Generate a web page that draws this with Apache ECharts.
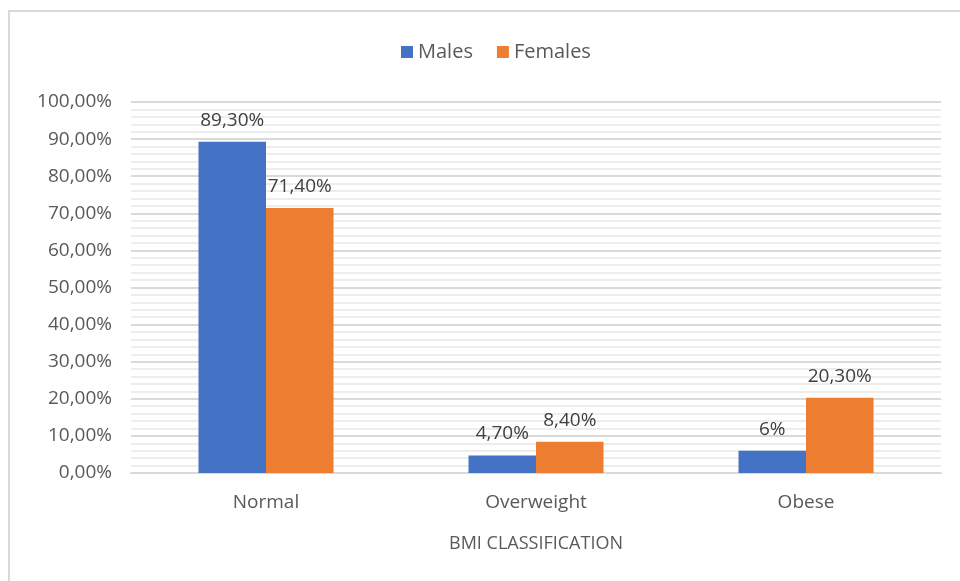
<!DOCTYPE html>
<html>
<head>
<meta charset="utf-8">
<script src="https://cdn.jsdelivr.net/npm/echarts@6/dist/echarts.min.js"></script>
<style>
  html, body { margin: 0; padding: 0; background: #fff; }
  #chart { width: 960px; height: 581px; }
</style>
</head>
<body>
<div id="chart"></div>
<script>
const categories = ["Normal", "Overweight", "Obese"];
const males = [89.3, 4.7, 6];
const females = [71.4, 8.4, 20.3];
const seriesNames = ["Males", "Females"];

const font = "Open Sans";

function pct(v) {
  // labels keep whole numbers short, e.g. "6%"
  if (Number.isInteger(v) && v !== 0) return v + "%";
  return v.toFixed(2).replace(".", ",") + "%";
}

const chart = echarts.init(document.getElementById("chart"));

function barSeries(name, data, color) {
  return {
    name: name,
    type: "bar",
    data: data,
    barGap: "0%",
    barCategoryGap: "50%",
    itemStyle: { color: color },
    label: {
      show: true,
      position: "top",
      distance: 12,
      color: "#404040",
      fontFamily: font,
      fontSize: 19,
      formatter: p => pct(p.value)
    }
  };
}

chart.setOption({
  animation: false,
  color: ["#4472c4", "#ed7d31"],
  graphic: [
    {
      type: "rect",
      shape: { x: 9, y: 11, width: 1000, height: 1000 },
      style: { fill: "none", stroke: "#d9d9d9", lineWidth: 2 }
    }
  ],
  legend: {
    top: 37,
    left: 396,
    itemWidth: 12,
    itemHeight: 12,
    itemGap: 24,
    icon: "rect",
    textStyle: { color: "#595959", fontFamily: font, fontSize: 20 },
    data: seriesNames
  },
  grid: { left: 131, right: 19, top: 102, bottom: 108 },
  xAxis: {
    type: "category",
    data: categories,
    name: "BMI CLASSIFICATION",
    nameLocation: "middle",
    nameGap: 62,
    nameTextStyle: { color: "#595959", fontFamily: font, fontSize: 18 },
    axisLine: { lineStyle: { color: "#d9d9d9", width: 2 } },
    axisTick: { show: false },
    axisLabel: { color: "#595959", fontFamily: font, fontSize: 19, margin: 20 }
  },
  yAxis: {
    type: "value",
    min: 0,
    max: 100,
    interval: 10,
    axisLine: { show: false },
    axisTick: { show: false },
    axisLabel: {
      color: "#595959",
      fontFamily: font,
      fontSize: 19,
      margin: 19,
      formatter: v => v.toFixed(2).replace(".", ",") + "%"
    },
    splitLine: { lineStyle: { color: "#d9d9d9", width: 2 } },
    minorTick: { show: false, splitNumber: 5 },
    minorSplitLine: { show: true, lineStyle: { color: "#ededed", width: 2 } }
  },
  series: [
    barSeries(seriesNames[0], males, "#4472c4"),
    barSeries(seriesNames[1], females, "#ed7d31")
  ]
});
</script>
</body>
</html>
